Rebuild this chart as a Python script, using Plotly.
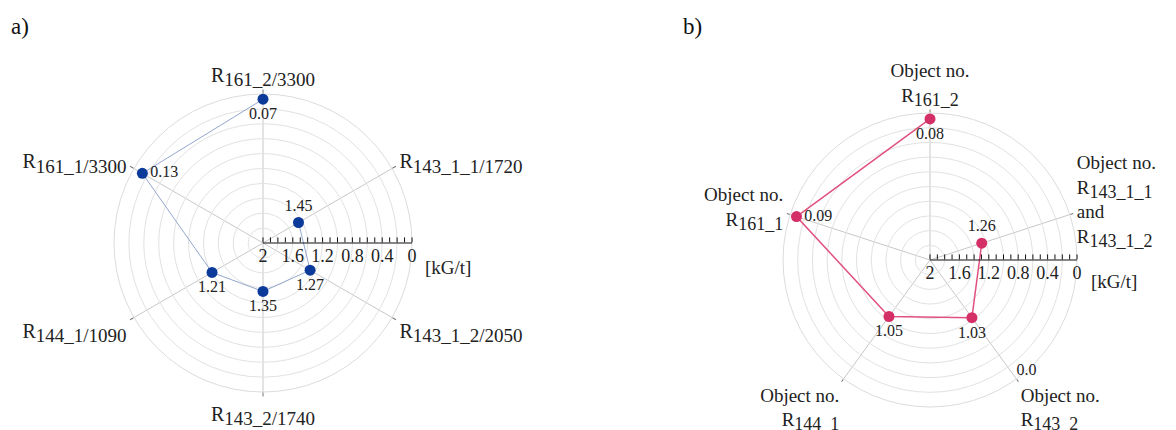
import plotly.graph_objects as go

# ---------------- data: panel a) ----------------
a_categories = ["R161_2/3300", "R143_1_1/1720", "R143_1_2/2050",
                "R143_2/1740", "R144_1/1090", "R161_1/3300"]
a_tick_labels = ["R<sub><span style='font-size:19px'>161_2/3300</span></sub>",
                 "R<sub><span style='font-size:19px'>143_1_1/1720</span></sub>",
                 "R<sub><span style='font-size:19px'>143_1_2/2050</span></sub>",
                 "R<sub><span style='font-size:19px'>143_2/1740</span></sub>",
                 "R<sub><span style='font-size:19px'>144_1/1090</span></sub>",
                 "R<sub><span style='font-size:19px'>161_1/3300</span></sub>"]
a_series_cats = ["R143_1_1/1720", "R143_1_2/2050", "R143_2/1740",
                 "R144_1/1090", "R161_1/3300", "R161_2/3300"]
a_series_vals = [1.45, 1.27, 1.35, 1.21, 0.13, 0.07]
a_series_text = ["1.45", "1.27", "1.35", "1.21", "0.13", "0.07"]

# ---------------- data: panel b) ----------------
b_categories = ["R161_2", "R143_1", "R143_2", "R144_1", "R161_1"]
b_tick_labels = ["Object no.<br>R<sub><span style='font-size:18px'>161_2</span></sub>",
                 "Object no.<br>R<sub><span style='font-size:18px'>143_1_1</span></sub><br>and<br>R<sub><span style='font-size:18px'>143_1_2</span></sub>",
                 "Object no.<br>R<sub><span style='font-size:18px'>143_2</span></sub>",
                 "Object no.<br>R<sub><span style='font-size:18px'>144_1</span></sub>",
                 "Object no.<br>R<sub><span style='font-size:18px'>161_1</span></sub>"]
b_series_cats = ["R143_1", "R143_2", "R144_1", "R161_1", "R161_2"]
b_series_vals = [1.26, 1.03, 1.05, 0.09, 0.08]
b_series_text = ["1.26", "1.03", "1.05", "0.09", "0.08"]
b_extra_cats = ["R143_2"]
b_extra_vals = [0.0]
b_extra_text = ["0.0"]

# radial axis ticks
radial_grid_vals = [2.0, 1.8, 1.6, 1.4, 1.2, 1.0, 0.8, 0.6, 0.4, 0.2, 0.0]
radial_grid_text = ["2", "", "1.6", "", "1.2", "", "0.8", "", "0.4", "", "0"]
radial_minor_vals = [2.0, 1.9, 1.8, 1.7, 1.6, 1.5, 1.4, 1.3, 1.2, 1.1, 1.0,
                     0.9, 0.8, 0.7, 0.6, 0.5, 0.4, 0.3, 0.2, 0.1, 0.0]

# ---------------- styles ----------------
FONT = "Liberation Serif, Times New Roman, serif"
a_textpos = ["top center", "bottom center", "bottom center", "bottom center",
             "middle right", "bottom center"]
b_textpos = ["top center", "bottom center", "bottom center", "middle right",
             "bottom center"]

fig = go.Figure()

fig.add_trace(go.Scatterpolar(
    r=a_series_vals, theta=a_series_cats, mode="lines+markers+text",
    text=a_series_text, textposition=a_textpos,
    textfont=dict(family=FONT, size=16, color="#222"),
    line=dict(color="#94a6cf", width=1),
    marker=dict(color="#0b3a9a", size=11),
    subplot="polar", showlegend=False, cliponaxis=False))

fig.add_trace(go.Scatterpolar(
    r=b_series_vals, theta=b_series_cats, mode="lines+markers+text",
    text=b_series_text, textposition=b_textpos,
    textfont=dict(family=FONT, size=16, color="#222"),
    line=dict(color="#e0517f", width=1.5),
    marker=dict(color="#d42f66", size=11),
    subplot="polar2", showlegend=False, cliponaxis=False))

fig.add_trace(go.Scatterpolar(
    r=b_extra_vals, theta=b_extra_cats, mode="text",
    text=b_extra_text, textposition="top right",
    textfont=dict(family=FONT, size=16, color="#222"),
    subplot="polar2", showlegend=False, cliponaxis=False))

# empty traces for overlay (minor tick) subplots
fig.add_trace(go.Scatterpolar(r=[], theta=[], subplot="polar3", showlegend=False))
fig.add_trace(go.Scatterpolar(r=[], theta=[], subplot="polar4", showlegend=False))

W, H = 1176, 430


def dom(cx, cy, rad):
    return dict(x=[(cx - rad) / W, (cx + rad) / W],
                y=[(H - cy - rad) / H, (H - cy + rad) / H])


def main_polar(cats, labels, d, fsize, tlen):
    return dict(
        domain=d,
        bgcolor="rgba(0,0,0,0)",
        angularaxis=dict(
            type="category", categoryorder="array", categoryarray=cats,
            tickmode="array", tickvals=cats, ticktext=labels,
            rotation=90, direction="clockwise",
            showline=True, linecolor="#dcdcdc", linewidth=1,
            gridcolor="#c8c8c8", gridwidth=1,
            ticks="outside", ticklen=tlen, tickcolor="#777",
            tickfont=dict(family=FONT, size=fsize, color="#222"),
            layer="below traces"),
        radialaxis=dict(
            range=[2, 0], angle=0, tickangle=0, side="clockwise",
            tickmode="array", tickvals=radial_grid_vals, ticktext=radial_grid_text,
            showline=False, ticks="",
            gridcolor="#e2e2e2", gridwidth=1,
            tickfont=dict(family=FONT, size=18, color="#222"),
            layer="below traces"),
    )


def minor_polar(d):
    return dict(
        domain=d,
        bgcolor="rgba(0,0,0,0)",
        angularaxis=dict(visible=False, showgrid=False, showline=False,
                         rotation=90, direction="clockwise"),
        radialaxis=dict(
            range=[2, 0], angle=0, side="clockwise",
            tickmode="array", tickvals=radial_minor_vals,
            showticklabels=False, showgrid=False,
            showline=True, linecolor="#111", linewidth=1.2,
            ticks="inside", ticklen=5, tickcolor="#111", tickwidth=1),
    )


dA = dom(263, 243, 149)
dB = dom(930, 260, 147)

fig.update_layout(
    width=W, height=H,
    margin=dict(l=0, r=0, t=0, b=0),
    paper_bgcolor="white", plot_bgcolor="white",
    font=dict(family=FONT, color="#222"),
    polar=main_polar(a_categories, a_tick_labels, dA, 20, 4),
    polar2=main_polar(b_categories, b_tick_labels, dB, 19, 3),
    polar3=minor_polar(dA),
    polar4=minor_polar(dB),
    annotations=[
        dict(text="a)", x=9 / W, y=1 - 27 / H, xref="paper", yref="paper",
             xanchor="left", yanchor="middle", showarrow=False,
             font=dict(family=FONT, size=23, color="#111")),
        dict(text="b)", x=681 / W, y=1 - 27 / H, xref="paper", yref="paper",
             xanchor="left", yanchor="middle", showarrow=False,
             font=dict(family=FONT, size=23, color="#111")),
        dict(text="[kG/t]", x=423 / W, y=1 - 267 / H, xref="paper", yref="paper",
             xanchor="left", yanchor="middle", showarrow=False,
             font=dict(family=FONT, size=19, color="#222")),
        dict(text="[kG/t]", x=1089 / W, y=1 - 281 / H, xref="paper", yref="paper",
             xanchor="left", yanchor="middle", showarrow=False,
             font=dict(family=FONT, size=19, color="#222")),
    ],
)

fig.write_html("out.html")
